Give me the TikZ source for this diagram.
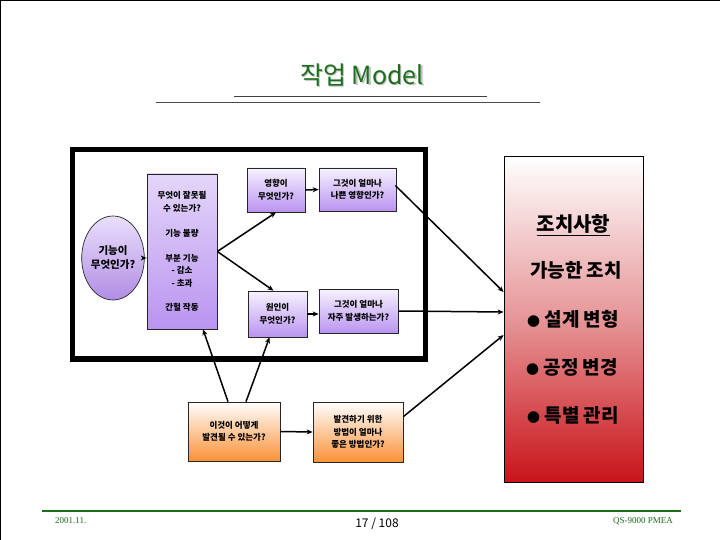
\documentclass[tikz,border=0pt]{standalone}
\usepackage{fontspec}
\newfontfamily\kr{Noto Sans CJK KR}
\newfontfamily\sernum{Liberation Serif}
\usetikzlibrary{shapes.geometric,arrows.meta,calc}
\definecolor{ttlgreen}{RGB}{28,110,28}
\definecolor{ftgreen}{RGB}{25,110,25}
\definecolor{purp}{RGB}{186,148,240}
\definecolor{lightpurp}{RGB}{246,242,255}
\definecolor{orng}{RGB}{250,145,55}
\definecolor{redb}{RGB}{200,20,25}
\newcommand{\smbul}{{\fontsize{13}{14}\selectfont ●}}
\begin{document}
\begin{tikzpicture}[x=1pt,y=-1pt,
  boxtext/.style={align=center, inner sep=0pt, font=\kr\bfseries\fontsize{8.5}{12.5}\selectfont},
  pbox/.style={boxtext, draw=black!85, line width=0.7pt, top color=lightpurp, bottom color=purp},
  obox/.style={boxtext, draw=black!85, line width=0.7pt, top color=white, bottom color=orng},
  arr/.style={line width=1.5pt, -{Stealth[length=6pt,width=5pt]}},
  redtxt/.style={inner sep=0pt, font=\kr\bfseries\fontsize{19}{22}\selectfont}
]
\useasboundingbox (0,0) rectangle (720,540);
% slide border
\draw[line width=2.5pt] (720,0) -- (0,0) -- (0,540);
% title
\node[text=black!25, font=\kr\fontsize{25}{28}\selectfont] (titleshadow) at (363.5,76.5) {작업 Model};
\node[text=ttlgreen, font=\kr\fontsize{25}{28}\selectfont] (title) at (362,75) {작업 Model};
\draw[line width=0.9pt, black!75] (234,96) -- (487,96);
\draw[line width=0.7pt, black!70] (156,102) -- (540,102);
% big frame
\draw[line width=5.5pt] (72.5,149.5) rectangle (425.5,359);
% nodes
\node[ellipse, draw=black!85, line width=0.7pt, top color=lightpurp!80!purp, bottom color=purp!95!black,
      minimum width=56pt, minimum height=84pt, inner sep=0pt, align=center,
      font=\kr\bfseries\fontsize{10.5}{14}\selectfont] (e) at (113,258) {기능이\\무엇인가?};
\node[pbox, minimum width=70pt, minimum height=155pt, top color=lightpurp!70!purp] (t) at (182,251.5)
  {무엇이 잘못될\\수 있는가?\\[13pt]기능 불량\\[12pt]부분 기능\\- 감소\\- 초과\\[12pt]간헐 작동};
\node[pbox, minimum width=58pt, minimum height=44pt] (b1) at (276,190) {영향이\\무엇인가?};
\node[pbox, minimum width=77pt, minimum height=43pt] (b2) at (357.5,189.5) {그것이 얼마나\\나쁜 영향인가?};
\node[pbox, minimum width=59pt, minimum height=46pt] (b3) at (277.5,314) {원인이\\무엇인가?};
\node[pbox, minimum width=79pt, minimum height=44pt] (b4) at (358.5,311) {그것이 얼마나\\자주 발생하는가?};
\node[obox, minimum width=92pt, minimum height=59pt] (c1) at (234,431.5) {이것이 어떻게\\발견될 수 있는가?};
\node[obox, minimum width=90pt, minimum height=60pt] (c2) at (358,432) {발견하기 위한\\방법이 얼마나\\좋은 방법인가?};
\node[draw=black, line width=0.8pt, top color=white, bottom color=redb, middle color=redb!45,
      minimum width=139pt, minimum height=326pt, inner sep=0pt] (r) at (573.5,319) {};
\node[redtxt, font=\kr\bfseries\fontsize{20}{22}\selectfont] (r1) at (573.5,225) {\underline{조치사항}};
\node[redtxt] (r2) at (576,270) {가능한 조치};
\node[redtxt] (r3) at (573,319) {\smbul\ 설계 변형};
\node[redtxt] (r4) at (572,367) {\smbul\ 공정 변경};
\node[redtxt] (r5) at (573,415) {\smbul\ 특별 관리};
% connectors
\draw[arr] (e.east) -- (e.east -| t.west);
\draw[arr] (t.east) -- (b1.south);
\draw[arr] (t.east) -- ($(b3.north)+(-4,0)$);
\draw[arr] (b1.east) -- (b2.west);
\draw[arr] (b3.east) -- (b3.east -| b4.west);
\draw[arr] ($(b2.east)+(-1,-4)$) -- ($(r.west)+(0,-27)$);
\draw[arr] (b4.east) -- ($(r.west)+(0,-7)$);
\draw[arr] ($(c2.north east)+(0,15)$) -- ($(r.west)+(0,16)$);
\draw[arr] ($(c1.north)+(-6,0)$) -- ($(t.south)+(21,0)$);
\draw[arr] ($(c1.north)+(12,0)$) -- ($(b3.south)+(-8,0)$);
\draw[arr] (c1.east) -- (c2.west);
% footer
\draw[ftgreen, line width=2pt] (42,511) -- (681,511);
\node[text=ftgreen, font=\sernum\fontsize{9}{10}\selectfont, anchor=west, inner sep=0pt] (date) at (55,521) {2001.11.};
\node[font=\kr\fontsize{12}{14}\selectfont, inner sep=0pt] (page) at (377,524) {17 / 108};
\node[text=ftgreen, font=\sernum\fontsize{9}{10}\selectfont, anchor=east, inner sep=0pt] (qs) at (673,521) {QS-9000 PMEA};
\end{tikzpicture}
\end{document}
